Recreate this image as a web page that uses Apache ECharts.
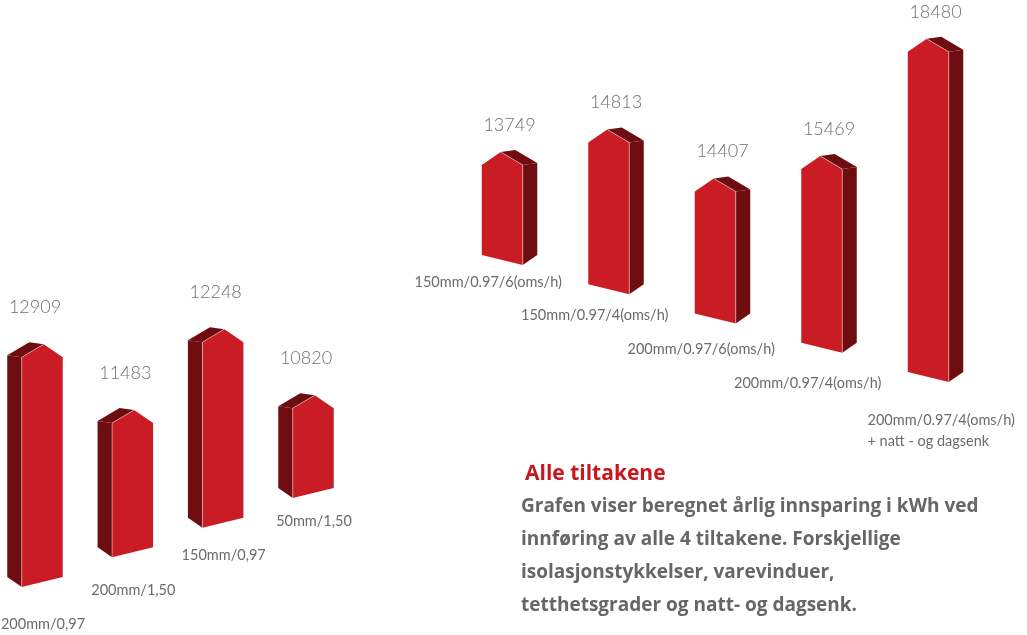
<!DOCTYPE html>
<html><head><meta charset="utf-8">
<script src="https://cdn.jsdelivr.net/npm/echarts@6/dist/echarts.min.js"></script>
<style>html,body{margin:0;padding:0;background:#fff}#c{width:1027px;height:635px}</style>
</head><body><div id="c"></div>
<script>
const leftCategories = ['200mm/0,97', '200mm/1,50', '150mm/0,97', '50mm/1,50'];
const leftValues = [12909, 11483, 12248, 10820];
const rightCategories = ['150mm/0.97/6(oms/h)', '150mm/0.97/4(oms/h)', '200mm/0.97/6(oms/h)', '200mm/0.97/4(oms/h)', '200mm/0.97/4(oms/h)\n+ natt - og dagsenk'];
const rightValues = [13749, 14813, 14407, 15469, 18480];
const titleText = 'Alle tiltakene';
const bodyLines = ['Grafen viser beregnet årlig innsparing i kWh ved', 'innføring av alle 4 tiltakene. Forskjellige', 'isolasjonstykkelser, varevinduer,', 'tetthetsgrader og natt- og dagsenk.'];

const FRONT = '#c91c24', SIDE = '#6e0d0f', EDGE = 'rgba(255,255,255,0.55)';
const LABEL = '#6b6b6b';
const FONT = 'Lato, "Open Sans", sans-serif';
const TEXTFONT = '"Open Sans", "Noto Sans", sans-serif';

const LEFT_MIN = 9480, LEFT_MAX = 18000;
const RIGHT_MIN = 11900, RIGHT_MAX = 17100;

function makeRender(cfg) {
  return function (params, api) {
    const i = api.value(0), v = api.value(1);
    const top = api.coord([i, v]);
    const base = api.coord([i, cfg.min]);
    const shift = cfg.skew * i;
    const W = 41, D = 14.5, R = 13, BS = 10, TS = 2;
    const cx = top[0];
    const s = cfg.side; // -1 side on left, +1 side on right
    const fl = s < 0 ? cx - (W + D) / 2 + D : cx - (W + D) / 2;
    const fr = fl + W;
    const eave = top[1] + shift;
    const bot = base[1] + shift;
    const px = fl + W / 2 - s * 1.5;
    const py = eave - R;
    let front, side, roof, edge;
    if (s < 0) {
      front = [[fl, bot], [fl, eave], [px, py], [fr, eave], [fr, bot - BS]];
      side = [[fl, eave], [fl - D, eave - TS], [fl - D, bot - BS], [fl, bot]];
      roof = [[fl, eave], [px, py], [px - D, py - TS], [fl - D, eave - TS]];
      edge = [[fl, bot], [fl, eave], [px, py]];
    } else {
      front = [[fl, bot], [fl, eave], [px, py], [fr, eave], [fr, bot + BS]];
      side = [[fr, eave], [fr + D, eave - TS], [fr + D, bot], [fr, bot + BS]];
      roof = [[fr, eave], [px, py], [px + D, py - TS], [fr + D, eave - TS]];
      edge = [[fr, bot + BS], [fr, eave], [px, py]];
    }
    const cat = cfg.cats[i];
    const multi = cat.indexOf('\n') >= 0;
    const labelX = cfg.catAlign === 'left' ? cx + cfg.catDx + (multi ? cfg.multiDx : 0) : cx + cfg.catDx;
    const labelY = bot + cfg.catDy + cfg.catDyStep * i + (multi ? cfg.multiDy : 0) - 10.5;
    return {
      type: 'group',
      children: [
        { type: 'polygon', shape: { points: side }, style: { fill: SIDE } },
        { type: 'polygon', shape: { points: roof }, style: { fill: SIDE } },
        { type: 'polygon', shape: { points: front }, style: { fill: FRONT } },
        { type: 'polyline', shape: { points: edge }, style: { stroke: EDGE, lineWidth: 0.8, fill: null } },
        { type: 'text', x: cx, y: py - cfg.valOff,
          style: { text: String(v), font: '300 18px ' + FONT, fill: '#707070', textAlign: 'center', textVerticalAlign: 'middle' } },
        { type: 'text', x: labelX, y: labelY,
          style: { text: cat, font: '14.5px ' + FONT, lineHeight: 21, fill: LABEL, textAlign: cfg.catAlign, textVerticalAlign: 'top' } }
      ]
    };
  };
}

const chart = echarts.init(document.getElementById('c'), null, { renderer: 'canvas' });
chart.setOption({
  animation: false,
  backgroundColor: '#fff',
  grid: [
    { left: 35, width: 271, top: 16, bottom: 48 },
    { left: 509.5, right: 91.5, top: 2, bottom: 380 }
  ],
  xAxis: [
    { type: 'category', gridIndex: 0, data: leftCategories, boundaryGap: false, show: false },
    { type: 'category', gridIndex: 1, data: rightCategories, boundaryGap: false, show: false }
  ],
  yAxis: [
    { type: 'value', gridIndex: 0, min: LEFT_MIN, max: LEFT_MAX, show: false },
    { type: 'value', gridIndex: 1, min: RIGHT_MIN, max: RIGHT_MAX, show: false }
  ],
  series: [
    { type: 'custom', xAxisIndex: 0, yAxisIndex: 0, clip: false,
      encode: { x: 0, y: 1 },
      data: leftValues.map((v, i) => [i, v]),
      renderItem: makeRender({ side: -1, min: LEFT_MIN, skew: -29.67, valOff: 37, cats: leftCategories, catAlign: 'center', catDx: 8, catDy: 37, catDyStep: -4.5, multiDx: 0, multiDy: 0 }) },
    { type: 'custom', xAxisIndex: 1, yAxisIndex: 1, clip: false,
      encode: { x: 0, y: 1 },
      data: rightValues.map((v, i) => [i, v]),
      renderItem: makeRender({ side: 1, min: RIGHT_MIN, skew: 29.25, valOff: 27, cats: rightCategories, catAlign: 'left', catDx: -95, catDy: 27, catDyStep: 4.5, multiDx: 27, multiDy: 3 }) }
  ],
  graphic: [
    { type: 'text', left: 525, top: 464,
      style: { text: titleText, font: 'bold 21px ' + TEXTFONT, fill: '#c8161e' } },
    { type: 'text', left: 521, top: 490,
      style: { text: bodyLines.join('\n'), font: 'bold 19px ' + TEXTFONT, lineHeight: 33, fill: '#666666' } }
  ]
});
</script>
</body></html>
